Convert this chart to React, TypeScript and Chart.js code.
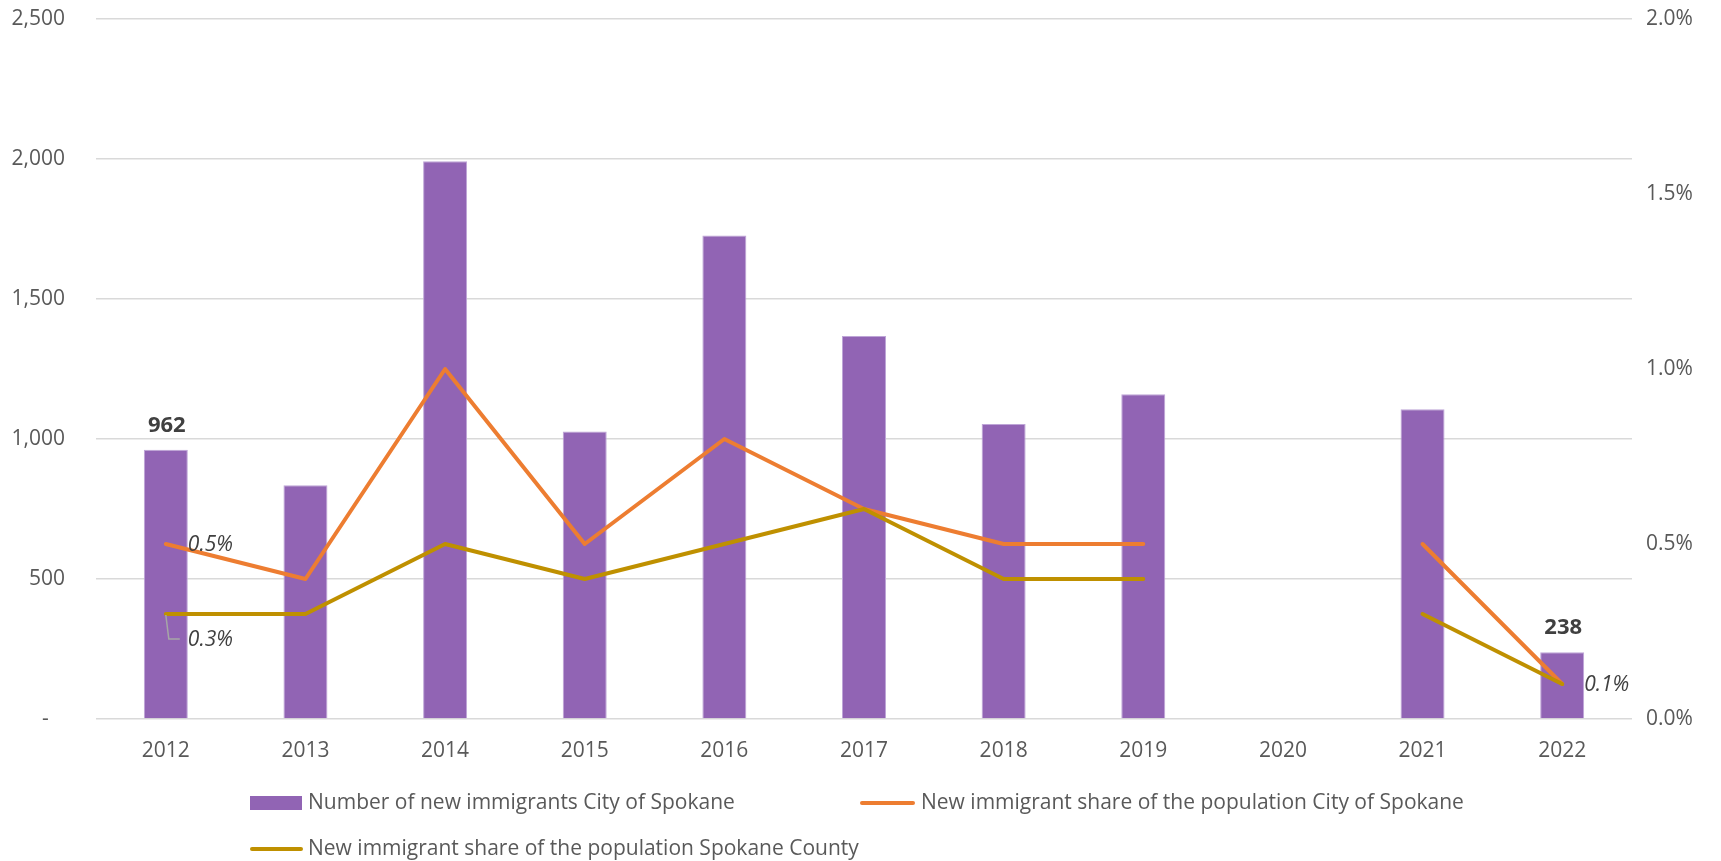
import React, { useEffect, useRef } from 'react';
import { Chart, registerables } from 'chart.js';

Chart.register(...registerables);

const years = ['2012', '2013', '2014', '2015', '2016', '2017', '2018', '2019', '2020', '2021', '2022'];
const newImmigrantsCity = [962, 835, 1992, 1027, 1727, 1368, 1054, 1160, null, 1106, 238];
const shareCity = [0.5, 0.4, 1.0, 0.5, 0.8, 0.6, 0.5, 0.5, null, 0.5, 0.1];
const shareCounty = [0.3, 0.3, 0.5, 0.4, 0.5, 0.6, 0.4, 0.4, null, 0.3, 0.1];
const leftTicks = [0, 500, 1000, 1500, 2000, 2500];
const rightTicks = [0, 0.5, 1.0, 1.5, 2.0];

const legendLabels = [
  'Number of new immigrants City of Spokane',
  'New immigrant share of the population City of Spokane',
  'New immigrant share of the population Spokane County',
];

const PURPLE = 'rgb(145,100,180)';
const ORANGE = '#ED7D31';
const GOLD = '#BF9000';
const FONT = '"Open Sans", sans-serif';

const W = 1721;
const H = 861;

const labelsPlugin = {
  id: 'customLabels',
  afterDatasetsDraw(chart: any) {
    const ctx = chart.ctx;
    const barMeta = chart.getDatasetMeta(0);
    const cityMeta = chart.getDatasetMeta(1);
    const countyMeta = chart.getDatasetMeta(2);
    ctx.save();
    // bold bar labels
    ctx.fillStyle = '#404040';
    ctx.font = `bold 22px ${FONT}`;
    ctx.textAlign = 'center';
    ctx.textBaseline = 'alphabetic';
    [0, 10].forEach((i) => {
      const el = barMeta.data[i];
      ctx.fillText(String(newImmigrantsCity[i]), el.x + 1, el.y - 18);
    });
    // italic percent labels
    ctx.font = `italic 21px ${FONT}`;
    ctx.textAlign = 'left';
    ctx.textBaseline = 'middle';
    const p0 = cityMeta.data[0];
    ctx.fillText(shareCity[0].toFixed(1) + '%', p0.x + 22, p0.y + 1);
    const p10 = countyMeta.data[10];
    ctx.fillText(shareCounty[10].toFixed(1) + '%', p10.x + 22, p10.y + 1);
    const c0 = countyMeta.data[0];
    ctx.fillText(shareCounty[0].toFixed(1) + '%', c0.x + 22, c0.y + 26);
    // leader line
    ctx.strokeStyle = '#a6a6a6';
    ctx.lineWidth = 1.5;
    ctx.beginPath();
    ctx.moveTo(c0.x, c0.y + 1);
    ctx.lineTo(c0.x + 3, c0.y + 25);
    ctx.lineTo(c0.x + 14, c0.y + 25);
    ctx.stroke();
    ctx.restore();
  },
  afterDraw(chart: any) {
    const ctx = chart.ctx;
    ctx.save();
    ctx.font = `21px ${FONT}`;
    ctx.fillStyle = '#595959';
    ctx.textAlign = 'left';
    ctx.textBaseline = 'middle';
    const row1 = 803;
    const row2 = 849;
    // item 1: box
    ctx.fillStyle = PURPLE;
    ctx.fillRect(250, row1 - 7, 52, 14);
    ctx.fillStyle = '#595959';
    ctx.fillText(legendLabels[0], 308, row1);
    // item 2
    ctx.strokeStyle = ORANGE;
    ctx.lineWidth = 4;
    ctx.lineCap = 'round';
    ctx.beginPath();
    ctx.moveTo(862, row1);
    ctx.lineTo(913, row1);
    ctx.stroke();
    ctx.fillText(legendLabels[1], 921, row1);
    // item 3
    ctx.strokeStyle = GOLD;
    ctx.beginPath();
    ctx.moveTo(252, row2);
    ctx.lineTo(301, row2);
    ctx.stroke();
    ctx.fillText(legendLabels[2], 308, row2);
    ctx.restore();
  },
};

const noPad = (s: any) => {
  s.paddingTop = 0;
  s.paddingBottom = 0;
};

export default function App() {
  const ref = useRef<HTMLCanvasElement>(null);
  useEffect(() => {
    if (!ref.current) return;
    const chart = new Chart(ref.current, {
      type: 'bar',
      data: {
        labels: years,
        datasets: [
          {
            type: 'bar',
            label: legendLabels[0],
            data: newImmigrantsCity,
            backgroundColor: PURPLE,
            borderColor: 'rgba(190,165,215,1)',
            borderWidth: 1,
            barPercentage: 0.315,
            categoryPercentage: 1,
            yAxisID: 'y',
            order: 2,
          },
          {
            type: 'line',
            label: legendLabels[1],
            data: shareCity,
            borderColor: ORANGE,
            backgroundColor: ORANGE,
            borderWidth: 4,
            pointRadius: 0,
            tension: 0,
            spanGaps: false,
            borderCapStyle: 'round',
            borderJoinStyle: 'round',
            yAxisID: 'y1',
            order: 1,
          },
          {
            type: 'line',
            label: legendLabels[2],
            data: shareCounty,
            borderColor: GOLD,
            backgroundColor: GOLD,
            borderWidth: 4,
            pointRadius: 0,
            tension: 0,
            spanGaps: false,
            borderCapStyle: 'round',
            borderJoinStyle: 'round',
            yAxisID: 'y1',
            order: 0,
          },
        ] as any,
      },
      options: {
        responsive: false,
        animation: false,
        devicePixelRatio: 1,
        layout: { padding: { left: 0, right: 0, top: 19, bottom: 92 } },
        plugins: {
          legend: { display: false },
          tooltip: { enabled: false },
        },
        scales: {
          x: {
            grid: { display: false, drawTicks: false },
            border: { display: false },
            ticks: { color: '#595959', font: { family: FONT, size: 21 }, padding: 19, maxRotation: 0 },
            afterFit: (s: any) => { s.height = 50; s.paddingLeft = 0; s.paddingRight = 0; },
          },
          y: {
            position: 'left',
            min: 0,
            max: 2500,
            afterBuildTicks: (s: any) => { s.ticks = leftTicks.map((v) => ({ value: v })); },
            grid: { color: '#d9d9d9', lineWidth: 1.5, drawTicks: false },
            border: { display: false },
            ticks: {
              color: '#595959',
              font: { family: FONT, size: 21 },
              padding: 31,
              callback: (v: any) => (Number(v) === 0 ? '-   ' : Number(v).toLocaleString('en-US')),
            },
            afterFit: (s: any) => { s.width = 96; noPad(s); },
          },
          y1: {
            position: 'right',
            min: 0,
            max: 2.0,
            afterBuildTicks: (s: any) => { s.ticks = rightTicks.map((v) => ({ value: v })); },
            grid: { display: false, drawTicks: false },
            border: { display: false },
            ticks: {
              color: '#595959',
              font: { family: FONT, size: 21 },
              padding: 14,
              callback: (v: any) => Number(v).toFixed(1) + '%',
            },
            afterFit: (s: any) => { s.width = 89; noPad(s); },
          },
        },
      },
      plugins: [labelsPlugin],
    });
    return () => chart.destroy();
  }, []);
  return (
    <div style={{ position: 'fixed', left: 0, top: 0, width: W, height: H, background: '#fff' }}>
      <canvas ref={ref} width={W} height={H} style={{ width: W, height: H, display: 'block' }} />
    </div>
  );
}
